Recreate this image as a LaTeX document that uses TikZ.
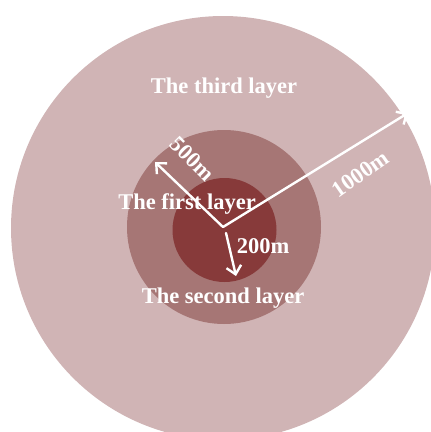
\documentclass[tikz,border=0pt]{standalone}
\usepackage{fontspec}
\setmainfont{Liberation Serif}
\usetikzlibrary{arrows.meta}
\definecolor{outerc}{RGB}{208,180,181}
\definecolor{midc}{RGB}{166,118,117}
\definecolor{innerc}{RGB}{135,58,58}
\tikzset{
  lbl/.style={text=white, font=\fontsize{22.5}{24}\selectfont\bfseries, inner sep=0pt},
  dimarrow/.style={draw=white, line width=2.4pt, line cap=round, -{Straight Barb[length=8pt,width=15pt,line width=2.4pt]}},
}
\begin{document}
\begin{tikzpicture}[x=1pt,y=-1pt]
\useasboundingbox (0,0) rectangle (431,432);
\clip (0,0) rectangle (431,432);
\fill[outerc] (223,228) circle (212);
\fill[midc] (224,227) circle (97);
\fill[innerc] (224.5,230) circle (52);
\coordinate (c) at (223,227);
\coordinate (c2) at (226,233);
\coordinate (t1000) at (408,113);
\coordinate (t500) at (155,162);
\coordinate (t200) at (236,276);
\draw[dimarrow] (c) -- (t1000);
\draw[dimarrow] (c) -- (t500);
\draw[dimarrow] (c2) -- (t200);
\node[lbl] (third) at (224,88) {The third layer};
\node[lbl] (first) at (187,204) {The first layer};
\node[lbl] (second) at (223,298) {The second layer};
\node[lbl] (d200) at (263,246) {200m};
\node[lbl, rotate=-45] (d500) at (192,159) {500m};
\node[lbl, rotate=35] (d1000) at (360,174) {1000m};
\end{tikzpicture}
\end{document}
